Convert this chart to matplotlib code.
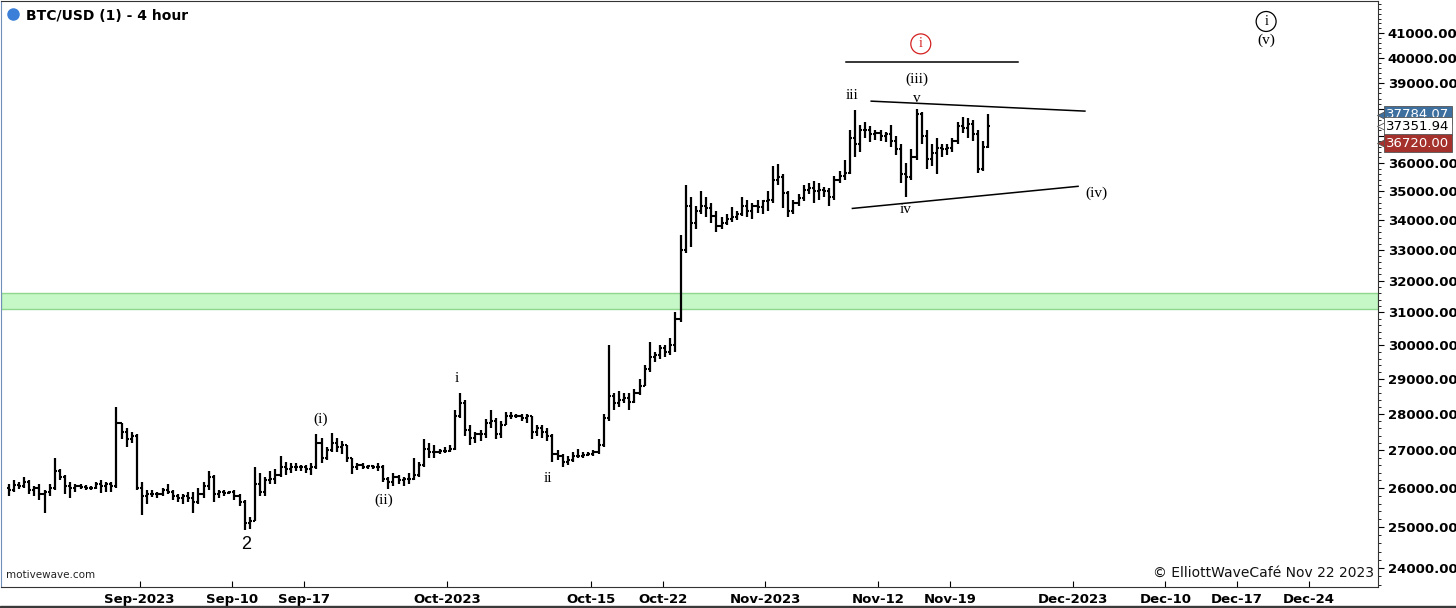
import numpy as np
import pandas as pd
import matplotlib
matplotlib.use("Agg")
import matplotlib.pyplot as plt
import matplotlib.transforms as mtransforms
from matplotlib.patches import Rectangle
from matplotlib.ticker import FixedLocator, FuncFormatter, NullFormatter

# 12-hour bars: (high, low, close), two bars per day
aug_bars = [  # Aug 19 - Aug 31
    (26100, 25800, 25950), (26200, 25900, 26080),
    (26150, 25980, 26050), (26300, 26000, 26150),
    (26200, 25850, 25950), (26050, 25800, 26000),
    (26100, 25700, 25850), (25950, 25350, 25900),
    (26100, 25800, 26000), (26800, 25950, 26450),
    (26500, 26200, 26300), (26350, 25850, 26050),
    (26150, 25750, 26000), (26100, 25900, 26050),
    (26100, 25980, 26020), (26080, 25950, 26000),
    (26050, 25950, 26000), (26150, 25980, 26100),
    (26200, 25880, 26050), (26150, 25900, 26100),
    (26150, 25900, 26050), (28200, 26000, 27750),
    (27750, 27300, 27500), (27600, 27100, 27300),
    (27500, 27200, 27400), (27450, 25950, 26000),
]
sep_bars = [
    (26150, 25300, 25800), (25950, 25600, 25850),
    (25950, 25780, 25850), (25900, 25750, 25850),
    (26000, 25800, 25950), (26100, 25850, 25900),
    (25950, 25700, 25800), (25850, 25650, 25750),
    (25850, 25600, 25800), (25900, 25650, 25750),
    (25900, 25350, 25650), (26000, 25600, 25850),
    (26150, 25750, 26050), (26450, 25950, 26300),
    (26350, 25650, 25850), (25950, 25750, 25900),
    (25950, 25800, 25880), (25920, 25850, 25900),
    (25950, 25700, 25800), (25850, 25550, 25650),
    (25700, 24930, 25100), (25250, 24950, 25150),
    (26550, 25150, 26100), (26400, 25800, 25900),
    (26300, 25800, 26200), (26450, 26100, 26250),
    (26500, 26100, 26350), (26850, 26300, 26550),
    (26700, 26350, 26500), (26650, 26400, 26550),
    (26650, 26450, 26550), (26600, 26450, 26550),
    (26600, 26400, 26500), (26650, 26350, 26550),
    (27450, 26500, 27200), (27350, 26650, 26800),
    (27100, 26750, 27000), (27480, 26950, 27200),
    (27350, 26950, 27100), (27250, 26900, 27150),
    (27150, 26700, 26800), (26800, 26380, 26550),
    (26650, 26480, 26600), (26650, 26500, 26550),
    (26620, 26500, 26580), (26600, 26500, 26550),
    (26650, 26450, 26550), (26600, 26150, 26250),
    (26300, 25980, 26150), (26400, 26050, 26300),
    (26350, 26100, 26200), (26300, 26050, 26250),
    (26400, 26100, 26250), (26800, 26200, 26350),
    (26700, 26300, 26600), (27300, 26550, 27050),
    (27200, 26800, 26950), (27150, 26800, 26950),
    (27050, 26900, 26980), (27100, 26930, 26980),
]
oct_bars = [
    (27150, 26950, 27050), (28100, 27000, 27950),
    (28600, 27900, 28300), (28400, 27400, 27550),
    (27700, 27150, 27350), (27500, 27200, 27450),
    (27550, 27250, 27450), (27850, 27350, 27750),
    (28100, 27600, 27800), (27900, 27300, 27450),
    (27800, 27350, 27700), (28050, 27700, 27950),
    (28050, 27850, 27950), (28000, 27900, 27950),
    (28000, 27800, 27900), (28000, 27750, 27950),
    (27950, 27300, 27500), (27700, 27400, 27600),
    (27700, 27350, 27500), (27600, 27250, 27400),
    (27450, 26700, 26900), (27000, 26750, 26850),
    (26900, 26550, 26700), (26850, 26600, 26750),
    (26950, 26700, 26850), (27050, 26800, 26850),
    (26950, 26800, 26880), (26950, 26850, 26900),
    (27000, 26850, 26950), (27300, 26900, 27150),
    (28000, 27100, 27900), (30000, 27800, 28500),
    (28600, 28100, 28300), (28650, 28200, 28400),
    (28600, 28300, 28450), (28600, 28100, 28350),
    (28700, 28300, 28600), (29000, 28550, 28800),
    (29400, 28800, 29300), (30100, 29200, 29650),
    (29800, 29500, 29700), (30000, 29600, 29900),
    (30000, 29650, 29800), (30200, 29700, 30000),
    (31000, 29800, 30800), (33500, 30700, 33000),
    (35200, 32900, 34500), (34800, 33100, 33900),
    (34500, 33700, 34300), (35000, 34200, 34500),
    (34800, 34100, 34400), (34600, 33900, 34150),
    (34300, 33600, 33800), (34100, 33700, 33900),
    (34200, 33850, 34050), (34450, 33950, 34100),
    (34300, 34000, 34200), (34800, 34150, 34500),
    (34700, 34100, 34300), (34600, 34050, 34500),
    (34700, 34250, 34450), (34700, 34200, 34650),
]
nov_bars = [  # Nov 1 - Nov 22
    (35000, 34300, 34700), (35900, 34600, 35400),
    (35950, 35200, 35500), (35600, 34400, 34950),
    (35000, 34100, 34300), (34700, 34200, 34600),
    (34900, 34500, 34750), (35200, 34650, 35050),
    (35300, 34900, 35100), (35350, 34600, 35000),
    (35300, 34700, 35050), (35150, 34800, 35000),
    (35100, 34500, 34800), (35550, 34700, 35400),
    (35700, 35300, 35550), (36100, 35400, 35650),
    (37200, 35600, 36900), (37950, 36200, 36700),
    (37400, 36400, 37200), (37500, 36900, 37200),
    (37350, 36750, 37050), (37200, 36850, 37100),
    (37200, 36800, 37000), (37150, 36750, 37050),
    (37400, 36600, 36800), (37000, 36300, 36500),
    (36700, 35300, 35600), (36000, 34800, 35500),
    (36500, 35400, 36200), (38000, 36100, 37800),
    (37900, 36700, 37000), (37200, 35800, 36150),
    (36700, 35900, 36350), (36900, 35600, 36550),
    (36700, 36200, 36500), (36700, 36300, 36550),
    (36900, 36400, 36800), (37500, 36700, 37350),
    (37700, 37100, 37300), (37650, 36900, 37450),
    (37600, 36800, 37050), (37200, 35650, 35800),
    (36800, 35700, 36600), (37800, 36550, 37352),
]
first_bar = "2023-08-19 00:00"
first_open = 26000

# price tags on the right axis
tag_values = [37784.07, 37351.94, 36720.00]
tag_text = ["37784.07", "37351.94", "36720.00"]
tag_face = ["#3d6f9f", "white", "#a5312c"]
tag_fg = ["white", "black", "white"]

# support zone
zone_low, zone_high = 31100, 31600

# x tick dates / labels
tick_dates = ["2023-09-01", "2023-09-10", "2023-09-17", "2023-10-01", "2023-10-15",
              "2023-10-22", "2023-11-01", "2023-11-12", "2023-11-19", "2023-12-01",
              "2023-12-10", "2023-12-17", "2023-12-24"]
tick_labels = ["Sep-2023", "Sep-10", "Sep-17", "Oct-2023", "Oct-15", "Oct-22",
               "Nov-2023", "Nov-12", "Nov-19", "Dec-2023", "Dec-10", "Dec-17", "Dec-24"]
price_ticks = list(range(24000, 42000, 1000))
hidden_ticks = [37000, 38000]  # covered by the price tags

# wave labels: text, time, price
wave_labels = [
    ("(i)", "2023-09-18 16:00", 27860),
    ("(ii)", "2023-09-24 20:00", 25690),
    ("i", "2023-10-01 22:00", 29000),
    ("ii", "2023-10-10 20:00", 26260),
    ("iii", "2023-11-09 10:00", 38530),
    ("v", "2023-11-15 18:00", 38420),
    ("(iii)", "2023-11-15 18:00", 39150),
    ("iv", "2023-11-14 16:00", 34380),
    ("(iv)", "2023-12-03 06:00", 34920),
    ("(v)", "2023-12-19 20:00", 40700),
]
# trend lines: (t0, p0, t1, p1)
trend_lines = [
    ("2023-11-11 08:00", 38300, "2023-12-02 04:00", 37920),
    ("2023-11-09 12:00", 34400, "2023-12-01 12:00", 35170),
    ("2023-11-08 20:00", 39830, "2023-11-25 16:00", 39830),
]

bars = aug_bars + sep_bars + oct_bars + nov_bars
highs = np.array([b[0] for b in bars], dtype=float)
lows = np.array([b[1] for b in bars], dtype=float)
closes = np.array([b[2] for b in bars], dtype=float)
opens = np.concatenate([[first_open], closes[:-1]])  # 24/7 market: open = prior close
times = pd.date_range(first_bar, periods=len(bars), freq="12h") + pd.Timedelta(hours=6)

fig = plt.figure(figsize=(14.56, 6.08), dpi=100)
ax = fig.add_axes([0.001, 0.0345, 0.9455, 0.9635])

ax.axhspan(zone_low, zone_high, color="#c6f7c6", ec="#8fd68f", lw=1, zorder=1)

w = pd.Timedelta(hours=5)
ax.vlines(times, lows, highs, color="black", lw=1.6, zorder=3)
ax.hlines(opens, times - w, times, color="black", lw=1.5, zorder=3)
ax.hlines(closes, times, times + w, color="black", lw=1.5, zorder=3)

for t0, p0, t1, p1 in trend_lines:
    ax.plot([pd.Timestamp(t0), pd.Timestamp(t1)], [p0, p1], color="black", lw=1.1, zorder=4)

serif = "Liberation Serif"
for txt, t, p in wave_labels:
    ax.text(pd.Timestamp(t), p, txt, ha="center", va="center", fontsize=11,
            family=serif, zorder=5)
ax.text(pd.Timestamp("2023-09-11 10:00"), 24580, "2", ha="center", va="center",
        fontsize=13, family="Liberation Sans", zorder=5)
ax.text(pd.Timestamp("2023-11-16 04:00"), 40560, "i", ha="center", va="center",
        fontsize=10, family=serif, color="#d42020", zorder=5,
        bbox=dict(boxstyle="circle,pad=0.25", fc="white", ec="#d42020", lw=0.9))
ax.text(pd.Timestamp("2023-12-19 20:00"), 41480, "i", ha="center", va="center",
        fontsize=10, family=serif, color="black", zorder=5,
        bbox=dict(boxstyle="circle,pad=0.25", fc="white", ec="black", lw=0.9))

ax.set_yscale("log")
ax.set_ylim(23548, 42330)
ax.set_xlim(pd.Timestamp("2023-08-18 13:00"), pd.Timestamp("2023-12-30 18:00"))

ax.yaxis.set_major_locator(FixedLocator(price_ticks))
ax.yaxis.set_major_formatter(
    FuncFormatter(lambda v, _: "" if round(v) in hidden_ticks else f"{v:.2f}"))
ax.yaxis.set_minor_locator(FixedLocator(list(range(23600, 42400, 200))))
ax.yaxis.set_minor_formatter(NullFormatter())
ax.yaxis.tick_right()
ax.tick_params(axis="y", which="major", direction="out", length=4, pad=3, labelsize=9.5)
ax.tick_params(axis="y", which="minor", direction="out", length=2)
for lab in ax.get_yticklabels():
    lab.set_fontweight("bold")

ax.set_xticks([pd.Timestamp(d) for d in tick_dates])
ax.set_xticklabels(tick_labels, fontsize=9.5, fontweight="bold")
ax.tick_params(axis="x", direction="in", length=4, pad=4)

ax.spines["left"].set_color("#6f8fb8")
for s in ["right", "bottom", "top"]:
    ax.spines[s].set_color("#333333")

# price tags
bt = mtransforms.blended_transform_factory(ax.transAxes, ax.transData)
for v, txt, fc, fg in zip(tag_values, tag_text, tag_face, tag_fg):
    ax.text(1.006, v, txt, transform=bt, ha="left", va="center", fontsize=9.5,
            color=fg, zorder=10, clip_on=False,
            bbox=dict(boxstyle="square,pad=0.18", fc=fc, ec="#555555", lw=0.6))
    ax.plot([1.003], [v], marker="<", ms=7, color=fc, mec="#555555", mew=0.6,
            transform=bt, clip_on=False, zorder=9)

ax.text(0.018, 0.987, "BTC/USD (1) - 4 hour", transform=ax.transAxes, ha="left",
        va="top", fontsize=10, fontweight="bold")
ax.plot([0.0085], [0.978], marker="o", ms=8, color="#3b7fd8", transform=ax.transAxes,
        clip_on=False)
ax.text(0.003, 0.012, "motivewave.com", transform=ax.transAxes, ha="left", va="bottom",
        fontsize=7.5, color="#222222")
ax.text(0.997, 0.012, "© ElliottWaveCafé Nov 22 2023", transform=ax.transAxes,
        ha="right", va="bottom", fontsize=10, color="#111111")

# thin dark frame line along the bottom of the picture
fig.patches.append(Rectangle((0, 0), 1, 0.0035, transform=fig.transFigure,
                             color="#3a3a3a", zorder=0))

fig.savefig("out.png", dpi=100)
